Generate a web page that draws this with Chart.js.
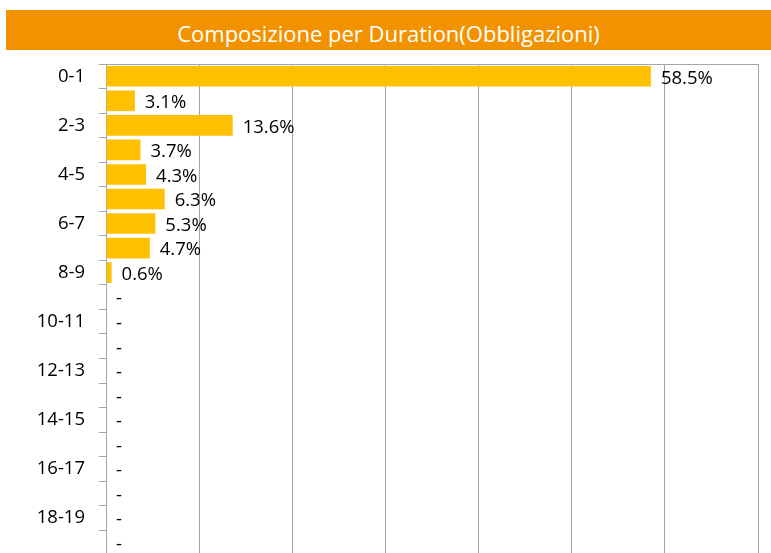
<!DOCTYPE html>
<html>
<head>
<meta charset="utf-8">
<script src="https://cdn.jsdelivr.net/npm/chart.js@4"></script>
<style>
  html, body { margin: 0; padding: 0; width: 771px; height: 553px; overflow: hidden; background: #fff; }
  #title { position: absolute; left: 6px; top: 10px; width: 765px; height: 37px; padding-top: 3px; background: rgb(242,146,0);
           color: #fff; font-family: "Open Sans", sans-serif; font-size: 22px; line-height: 40px; text-align: center; overflow: hidden; }
  #wrap { position: absolute; left: 0; top: 0; width: 771px; height: 580px; }
</style>
</head>
<body>
<div id="wrap"><canvas id="c"></canvas></div>
<div id="title">Composizione per Duration(Obbligazioni)</div>
<script>
const categories = ['0-1','1-2','2-3','3-4','4-5','5-6','6-7','7-8','8-9','9-10','10-11','11-12','12-13','13-14','14-15','15-16','16-17','17-18','18-19','19-20'];
const values = [58.5, 3.1, 13.6, 3.7, 4.3, 6.3, 5.3, 4.7, 0.6, 0, 0, 0, 0, 0, 0, 0, 0, 0, 0, 0];
const xTicks = [0, 10, 20, 30, 40, 50, 60, 70];

const gridGray = '#a6a6a6';
const labelFont = '18.5px "Open Sans", sans-serif';

const labelPlugin = {
  id: 'barLabels',
  afterDatasetsDraw(chart) {
    const ctx = chart.ctx;
    const meta = chart.getDatasetMeta(0);
    const xScale = chart.scales.x;
    ctx.save();
    ctx.font = labelFont;
    ctx.fillStyle = '#000';
    ctx.textBaseline = 'middle';
    ctx.textAlign = 'left';
    meta.data.forEach((bar, i) => {
      const v = values[i];
      const txt = v === 0 ? '-' : v.toFixed(1) + '%';
      const x = (v === 0 ? xScale.getPixelForValue(0) : bar.x) + 10;
      ctx.fillText(txt, x, bar.y + 2);
    });
    ctx.restore();
  }
};

new Chart(document.getElementById('c'), {
  type: 'bar',
  data: {
    labels: categories,
    datasets: [{
      data: values,
      backgroundColor: '#FFC000',
      borderWidth: 0,
      barPercentage: 0.84,
      categoryPercentage: 1.0
    }]
  },
  options: {
    indexAxis: 'y',
    responsive: true,
    maintainAspectRatio: false,
    animation: false,
    layout: { padding: { top: 64, right: 13, bottom: 22, left: 0 } },
    plugins: { legend: { display: false }, tooltip: { enabled: false } },
    scales: {
      x: {
        min: 0, max: 70,
        afterBuildTicks(scale) { scale.ticks = xTicks.map(v => ({ value: v })); },
        grid: { color: gridGray, lineWidth: 1, drawTicks: false },
        border: { display: false },
        ticks: { display: false }
      },
      y: {
        afterFit(scale) { scale.width = 106; },
        grid: {
          offset: true,
          color: (c) => c.index === 0 ? gridGray : 'rgba(0,0,0,0)',
          tickColor: gridGray,
          tickLength: 7,
          lineWidth: 1
        },
        border: { display: true, color: gridGray, width: 1 },
        ticks: {
          autoSkip: false,
          padding: 14,
          color: '#000',
          font: { family: '"Open Sans", sans-serif', size: 18.5 },
          callback(val, idx) { return idx % 2 === 0 ? categories[idx] : ''; }
        }
      }
    }
  },
  plugins: [labelPlugin]
});
</script>
</body>
</html>
